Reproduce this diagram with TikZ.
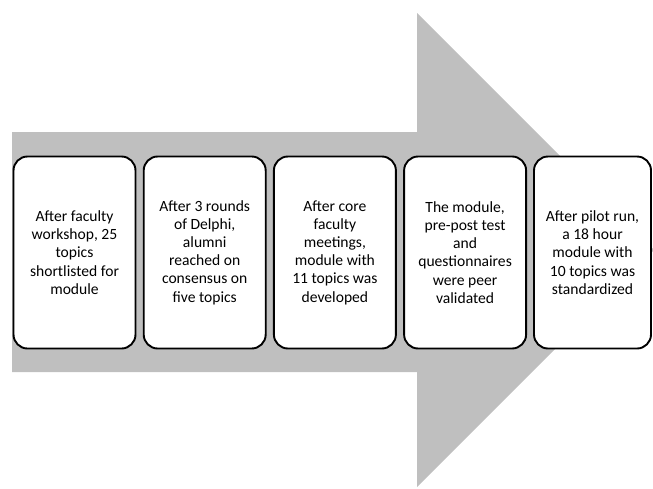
\documentclass[tikz,border=0pt]{standalone}
\usepackage{fontspec}
\setmainfont{Carlito}
\definecolor{arrowgrey}{RGB}{191,191,191}
\begin{document}
\begin{tikzpicture}[x=1pt,y=-1pt,
  stepbox/.style={draw=black, line width=1.9pt, fill=white, rounded corners=14pt,
    minimum width=122pt, minimum height=192pt, align=center, inner sep=0pt,
    font=\fontsize{15.6}{18.2}\selectfont}]
\useasboundingbox (0,0) rectangle (653,488);
\fill[arrowgrey] (12,132) -- (417,132) -- (417,13) -- (654,250) -- (417,487) -- (417,372) -- (12,372) -- cycle;
\node[stepbox] (b1) at (74.5,252.5) {After faculty\\workshop, 25\\topics\\shortlisted for\\module};
\node[stepbox] (b2) at (204.7,252.5) {After 3 rounds\\of Delphi,\\alumni\\reached on\\consensus on\\five topics};
\node[stepbox] (b3) at (334.9,252.5) {After core\\faculty\\meetings,\\module with\\11 topics was\\developed};
\node[stepbox] (b4) at (465.1,252.5) {The module,\\pre-post test\\and\\questionnaires\\were peer\\validated};
\node[stepbox, minimum width=117pt] (b5) at (592.5,252.5) {After pilot run,\\a 18 hour\\module with\\10 topics was\\standardized};
\end{tikzpicture}
\end{document}
